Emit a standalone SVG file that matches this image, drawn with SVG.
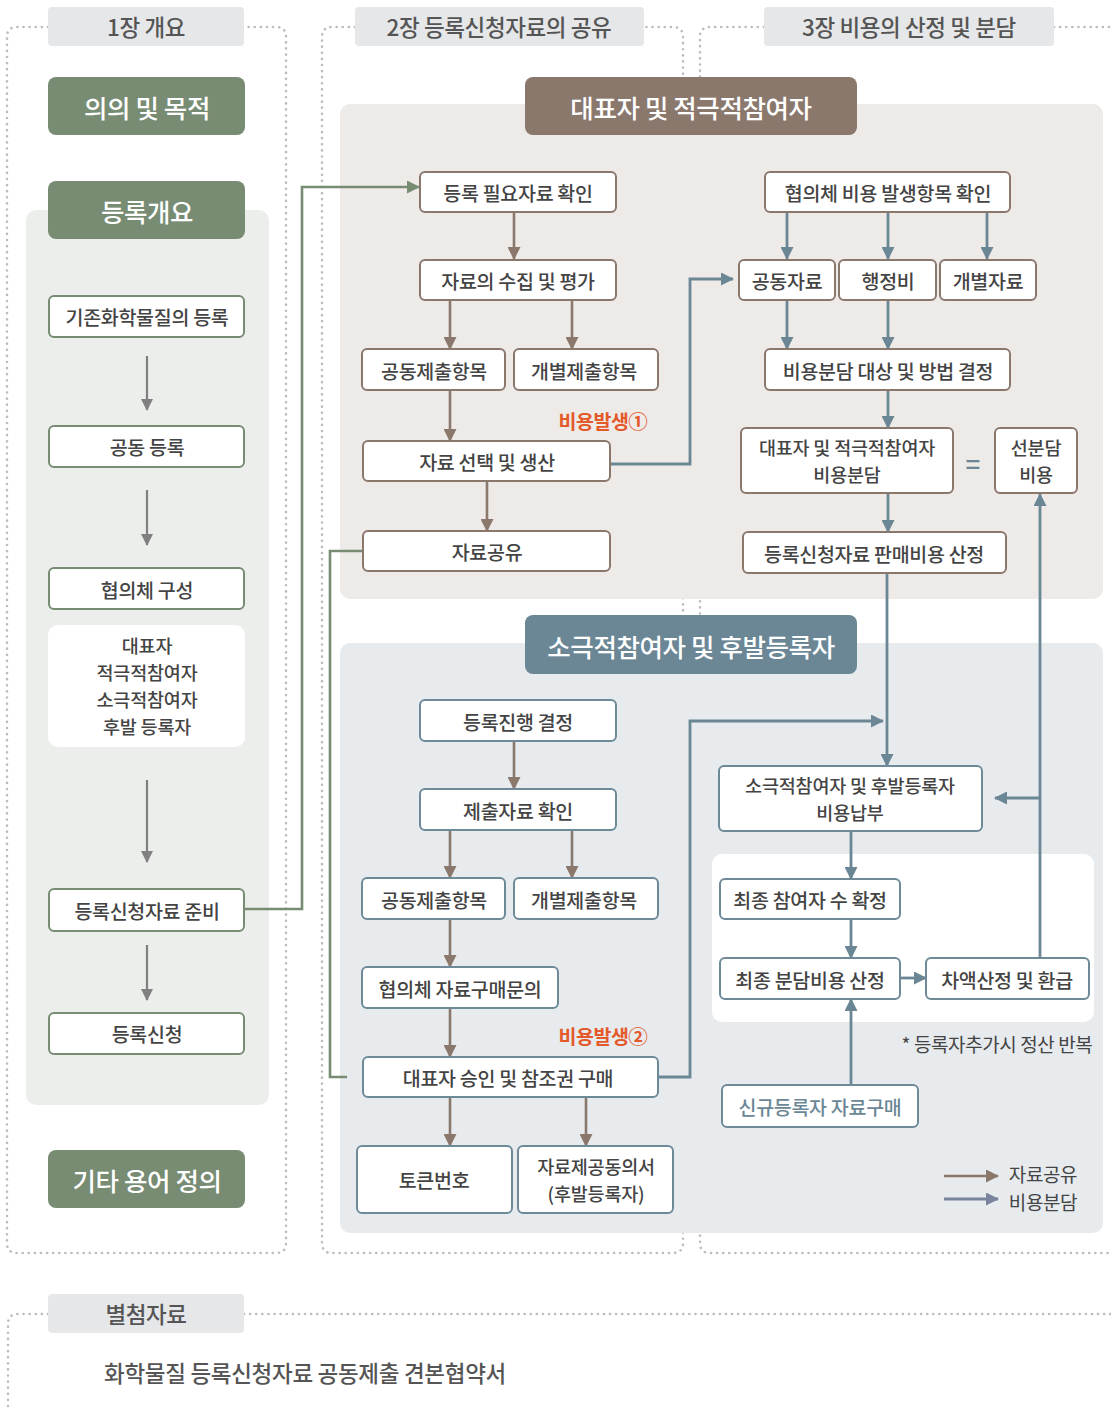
<svg xmlns="http://www.w3.org/2000/svg" width="1111" height="1410" viewBox="0 0 1111 1410">
<style>
text{font-family:"Noto Sans CJK KR","Noto Sans",sans-serif;fill:#444;text-anchor:middle;dominant-baseline:central;font-weight:500}
.lbl{font-size:19.5px;letter-spacing:-0.3px}
.ml{font-size:18.5px;letter-spacing:-0.2px}
.hdr{font-size:22.5px;fill:#555;letter-spacing:-0.4px}
.ttl{font-size:25.5px;fill:#fff;letter-spacing:-0.4px}
.cost{font-size:19.5px;fill:#e4592a;font-weight:bold;letter-spacing:-0.5px}
.note{font-size:19px;letter-spacing:-0.4px;font-weight:400}
.dot{fill:none;stroke:#bdbdbd;stroke-width:2.6;stroke-dasharray:0.1 6;stroke-linecap:round}
.hbox{fill:#e6e7e9}
.gbox{fill:#fff;stroke:#778c73;stroke-width:2}
.bbox{fill:#fff;stroke:#8b786d;stroke-width:2}
.lbox{fill:#fff;stroke:#6e8a99;stroke-width:2}
.gar{fill:none;stroke:#808080;stroke-width:2.2}
.brn{fill:none;stroke:#8b786d;stroke-width:2.6}
.blu{fill:none;stroke:#6b8796;stroke-width:2.8}
.grn{fill:none;stroke:#778c73;stroke-width:2.6}
</style>
<defs>
<marker id="mg" markerUnits="userSpaceOnUse" markerWidth="12" markerHeight="12" refX="11" refY="6" orient="auto"><path d="M0,0 L12,6 L0,12 z" fill="#808080"/></marker>
<marker id="mb" markerUnits="userSpaceOnUse" markerWidth="13" markerHeight="13" refX="12" refY="6.5" orient="auto"><path d="M0,0 L13,6.5 L0,13 z" fill="#8b786d"/></marker>
<marker id="ml" markerUnits="userSpaceOnUse" markerWidth="13" markerHeight="13" refX="12" refY="6.5" orient="auto"><path d="M0,0 L13,6.5 L0,13 z" fill="#6b8796"/></marker>
<marker id="mgr" markerUnits="userSpaceOnUse" markerWidth="13" markerHeight="13" refX="12" refY="6.5" orient="auto"><path d="M0,0 L13,6.5 L0,13 z" fill="#778c73"/></marker>
<marker id="mp" markerUnits="userSpaceOnUse" markerWidth="13" markerHeight="13" refX="12" refY="6.5" orient="auto"><path d="M0,0 L13,6.5 L0,13 z" fill="#7a849e"/></marker>
</defs>

<g id="frames">
<path class="dot" d="M48,27 H17 Q7,27 7,37 V1243 Q7,1253 17,1253 H276 Q286,1253 286,1243 V37 Q286,27 276,27 H244"/>
<path class="dot" d="M355,27 H332 Q322,27 322,37 V1243 Q322,1253 332,1253 H673 Q683,1253 683,1243 V37 Q683,27 673,27 H644"/>
<path class="dot" d="M764,27 H710 Q700,27 700,37 V1243 Q700,1253 710,1253 H1111 M1054,27 H1111"/>
<path class="dot" d="M48,1314 H18 Q8,1314 8,1324 V1410 M244,1314 H1111"/>
</g>

<g id="panels">
<rect x="26" y="210" width="243" height="895" rx="10" fill="#eceeeb"/>
<rect x="340" y="104" width="763" height="495" rx="10" fill="#eeeae8"/>
<rect x="340" y="643" width="763" height="590" rx="10" fill="#e7ebee"/>
<rect x="712" y="854" width="382" height="168" rx="10" fill="#fff"/>
</g>

<g id="headers">
<g id="h1"><rect class="hbox" x="48" y="7" width="196" height="39" rx="4"/><text class="hdr" x="146" y="26">1장 개요</text></g>
<g id="h2"><rect class="hbox" x="355" y="7" width="289" height="39" rx="4"/><text class="hdr" x="499" y="26">2장 등록신청자료의 공유</text></g>
<g id="h3"><rect class="hbox" x="764" y="7" width="290" height="39" rx="4"/><text class="hdr" x="909" y="26">3장 비용의 산정 및 분담</text></g>
<g id="h4"><rect class="hbox" x="48" y="1294" width="196" height="39" rx="4"/><text class="hdr" x="146" y="1313">별첨자료</text></g>
</g>

<g id="connectors">
<path class="gar" marker-end="url(#mg)" d="M147,356 V410"/>
<path class="gar" marker-end="url(#mg)" d="M147,490 V545"/>
<path class="gar" marker-end="url(#mg)" d="M147,780 V862"/>
<path class="gar" marker-end="url(#mg)" d="M147,945 V1000"/>
<path class="grn" marker-end="url(#mgr)" d="M245,909 H302 V187 H419"/>
<path class="grn" d="M363,551 H330 V1077 H347"/>
<path class="brn" marker-end="url(#mb)" d="M514,213 V259"/>
<path class="brn" marker-end="url(#mb)" d="M450,301 V349"/>
<path class="brn" marker-end="url(#mb)" d="M572,301 V349"/>
<path class="brn" marker-end="url(#mb)" d="M450,390 V441"/>
<path class="brn" marker-end="url(#mb)" d="M487,482 V531"/>
<path class="brn" marker-end="url(#mb)" d="M514,741 V789"/>
<path class="brn" marker-end="url(#mb)" d="M450,830 V878"/>
<path class="brn" marker-end="url(#mb)" d="M572,830 V878"/>
<path class="brn" marker-end="url(#mb)" d="M450,919 V967"/>
<path class="brn" marker-end="url(#mb)" d="M450,1008 V1057"/>
<path class="brn" marker-end="url(#mb)" d="M450,1097 V1146"/>
<path class="brn" marker-end="url(#mb)" d="M586,1097 V1146"/>
<path class="blu" marker-end="url(#ml)" d="M610,464 H690 V279 H733"/>
<path class="blu" marker-end="url(#ml)" d="M657,1077 H690 V721 H883"/>
<path class="blu" marker-end="url(#ml)" d="M787,213 V259"/>
<path class="blu" marker-end="url(#ml)" d="M888,213 V259"/>
<path class="blu" marker-end="url(#ml)" d="M987,213 V259"/>
<path class="blu" marker-end="url(#ml)" d="M787,301 V349"/>
<path class="blu" marker-end="url(#ml)" d="M888,301 V349"/>
<path class="blu" marker-end="url(#ml)" d="M888,390 V428"/>
<path class="blu" marker-end="url(#ml)" d="M888,493 V532"/>
<path class="blu" marker-end="url(#ml)" d="M887,573 V766"/>
<path class="blu" marker-end="url(#ml)" d="M851,831 V879"/>
<path class="blu" marker-end="url(#ml)" d="M851,919 V958"/>
<path class="blu" marker-end="url(#ml)" d="M900,978 H926"/>
<path class="blu" marker-end="url(#ml)" d="M1040,958 V494"/>
<path class="blu" marker-end="url(#ml)" d="M1040,798 H995"/>
<path class="blu" marker-end="url(#ml)" d="M851,1085 V999"/>
</g>

<g id="n-s1-purpose"><rect x="48" y="77" width="197" height="58" rx="8" fill="#778c73"/><text class="ttl" x="147" y="106">의의 및 목적</text></g>
<g id="n-s1-overview"><rect x="48" y="181" width="197" height="58" rx="8" fill="#778c73"/><text class="ttl" x="147" y="210">등록개요</text></g>
<g id="n-s1-existing"><rect class="gbox" x="49" y="296" width="195" height="41" rx="5"/><text class="lbl" x="147" y="316">기존화학물질의 등록</text></g>
<g id="n-s1-joint"><rect class="gbox" x="49" y="426" width="195" height="41" rx="5"/><text class="lbl" x="147" y="446">공동 등록</text></g>
<g id="n-s1-consortium"><rect class="gbox" x="49" y="568" width="195" height="41" rx="5"/><text class="lbl" x="147" y="589">협의체 구성</text></g>
<g id="n-s1-roles"><rect x="48" y="625" width="197" height="122" rx="10" fill="#fff"/>
<text class="ml" x="147" y="645">대표자</text><text class="ml" x="147" y="672">적극적참여자</text><text class="ml" x="147" y="699">소극적참여자</text><text class="ml" x="147" y="726">후발 등록자</text></g>
<g id="n-s1-prepare"><rect class="gbox" x="49" y="889" width="195" height="42" rx="5"/><text class="lbl" x="147" y="910">등록신청자료 준비</text></g>
<g id="n-s1-apply"><rect class="gbox" x="49" y="1013" width="195" height="41" rx="5"/><text class="lbl" x="147" y="1033">등록신청</text></g>
<g id="n-s1-terms"><rect x="48" y="1150" width="197" height="58" rx="8" fill="#778c73"/><text class="ttl" x="147" y="1179">기타 용어 정의</text></g>

<g id="n-title-lead"><rect x="525" y="77" width="332" height="58" rx="8" fill="#8b786d"/><text class="ttl" x="691" y="106">대표자 및 적극적참여자</text></g>
<g id="n-a1"><rect class="bbox" x="420" y="172" width="196" height="40" rx="5"/><text class="lbl" x="518" y="192">등록 필요자료 확인</text></g>
<g id="n-a2"><rect class="bbox" x="420" y="260" width="196" height="40" rx="5"/><text class="lbl" x="518" y="280">자료의 수집 및 평가</text></g>
<g id="n-a3"><rect class="bbox" x="362" y="349" width="143" height="41" rx="5"/><text class="lbl" x="434" y="370">공동제출항목</text></g>
<g id="n-a4"><rect class="bbox" x="514" y="349" width="144" height="41" rx="5"/><text class="lbl" x="584" y="370">개별제출항목</text></g>
<text class="cost" x="603" y="420">비용발생①</text>
<g id="n-a5"><rect class="bbox" x="363" y="441" width="247" height="40" rx="5"/><text class="lbl" x="487" y="461">자료 선택 및 생산</text></g>
<g id="n-a6"><rect class="bbox" x="363" y="531" width="247" height="40" rx="5"/><text class="lbl" x="487" y="551">자료공유</text></g>

<g id="n-c1"><rect class="bbox" x="765" y="172" width="245" height="40" rx="5"/><text class="lbl" x="888" y="192">협의체 비용 발생항목 확인</text></g>
<g id="n-c2"><rect class="bbox" x="739" y="260" width="96" height="40" rx="5"/><text class="lbl" x="787" y="280">공동자료</text></g>
<g id="n-c3"><rect class="bbox" x="839" y="260" width="97" height="40" rx="5"/><text class="lbl" x="888" y="280">행정비</text></g>
<g id="n-c4"><rect class="bbox" x="940" y="260" width="96" height="40" rx="5"/><text class="lbl" x="988" y="280">개별자료</text></g>
<g id="n-c5"><rect class="bbox" x="765" y="349" width="245" height="41" rx="5"/><text class="lbl" x="888" y="370">비용분담 대상 및 방법 결정</text></g>
<g id="n-c6"><rect class="bbox" x="741" y="428" width="212" height="65" rx="5"/><text class="ml" x="847" y="447">대표자 및 적극적참여자</text><text class="ml" x="847" y="474">비용분담</text></g>
<text x="973" y="462" style="font-size:26px;fill:#6b8796">=</text>
<g id="n-c7"><rect class="bbox" x="995" y="428" width="82" height="65" rx="5"/><text class="ml" x="1036" y="447">선분담</text><text class="ml" x="1036" y="474">비용</text></g>
<g id="n-c8"><rect class="bbox" x="743" y="532" width="263" height="41" rx="5"/><text class="lbl" x="874" y="553">등록신청자료 판매비용 산정</text></g>

<g id="n-title-passive"><rect x="525" y="615" width="332" height="59" rx="8" fill="#6b8796"/><text class="ttl" x="691" y="645">소극적참여자 및 후발등록자</text></g>
<g id="n-b1"><rect class="lbox" x="420" y="700" width="196" height="41" rx="5"/><text class="lbl" x="518" y="721">등록진행 결정</text></g>
<g id="n-b2"><rect class="lbox" x="420" y="789" width="196" height="41" rx="5"/><text class="lbl" x="518" y="810">제출자료 확인</text></g>
<g id="n-b3"><rect class="lbox" x="362" y="878" width="143" height="41" rx="5"/><text class="lbl" x="434" y="899">공동제출항목</text></g>
<g id="n-b4"><rect class="lbox" x="514" y="878" width="144" height="41" rx="5"/><text class="lbl" x="584" y="899">개별제출항목</text></g>
<g id="n-b5"><rect class="lbox" x="362" y="967" width="196" height="41" rx="5"/><text class="lbl" x="460" y="988">협의체 자료구매문의</text></g>
<text class="cost" x="603" y="1035">비용발생②</text>
<g id="n-b6"><rect class="lbox" x="363" y="1057" width="295" height="40" rx="5"/><text class="lbl" x="508" y="1077">대표자 승인 및 참조권 구매</text></g>
<g id="n-b7"><rect class="lbox" x="357" y="1146" width="155" height="67" rx="5"/><text class="lbl" x="434" y="1179">토큰번호</text></g>
<g id="n-b8"><rect class="lbox" x="518" y="1146" width="155" height="67" rx="5"/><text class="ml" x="596" y="1166">자료제공동의서</text><text class="ml" x="596" y="1193">(후발등록자)</text></g>

<g id="n-d1"><rect class="lbox" x="719" y="766" width="263" height="65" rx="5"/><text class="ml" x="850" y="785">소극적참여자 및 후발등록자</text><text class="ml" x="850" y="812">비용납부</text></g>
<g id="n-d2"><rect class="lbox" x="720" y="879" width="180" height="40" rx="5"/><text class="lbl" x="810" y="899">최종 참여자 수 확정</text></g>
<g id="n-d3"><rect class="lbox" x="720" y="958" width="180" height="41" rx="5"/><text class="lbl" x="810" y="979">최종 분담비용 산정</text></g>
<g id="n-d4"><rect class="lbox" x="926" y="958" width="163" height="41" rx="5"/><text class="lbl" x="1007" y="979">차액산정 및 환급</text></g>
<text class="note" x="997" y="1043">* 등록자추가시 정산 반복</text>
<g id="n-d5"><rect class="lbox" x="722" y="1085" width="196" height="42" rx="5"/><text class="lbl" x="820" y="1106" style="fill:#6b8796">신규등록자 자료구매</text></g>

<g id="legend">
<path class="brn" marker-end="url(#mb)" d="M944,1176 H998"/>
<path fill="none" stroke="#7a849e" stroke-width="3" marker-end="url(#mp)" d="M944,1199 H998"/>
<text class="note" x="1043" y="1173">자료공유</text>
<text class="note" x="1043" y="1201">비용분담</text>
</g>

<text x="305" y="1372" style="font-size:22.5px;fill:#555;letter-spacing:-0.3px">화학물질 등록신청자료 공동제출 견본협약서</text>
</svg>
